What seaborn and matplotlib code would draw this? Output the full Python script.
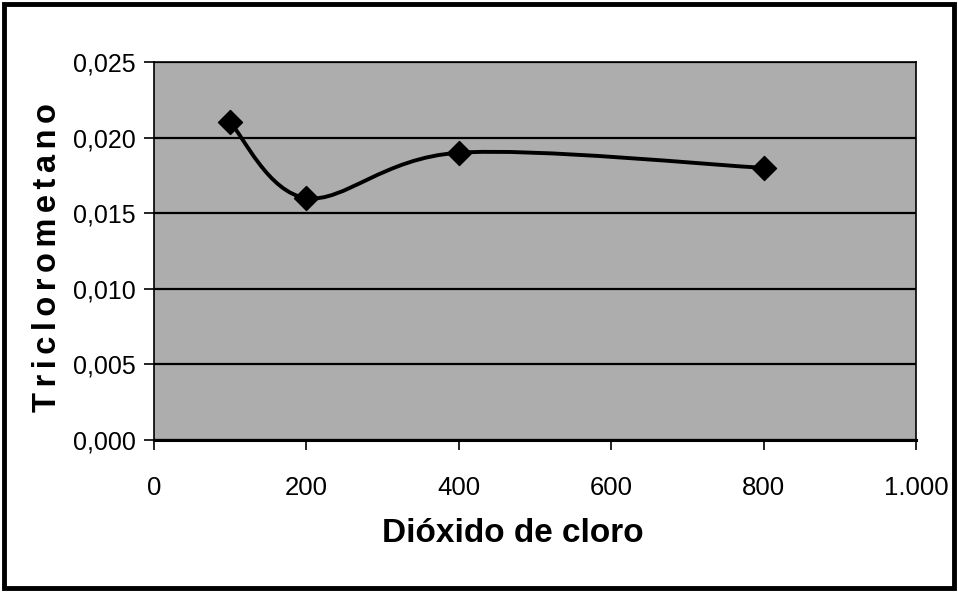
import numpy as np
import pandas as pd
import matplotlib
matplotlib.use("Agg")
import matplotlib.pyplot as plt
import seaborn as sns
from matplotlib.path import Path
from matplotlib.patches import PathPatch, Rectangle

dioxido = [100, 200, 400, 800]
triclorometano = [0.021, 0.016, 0.019, 0.018]
x_ticks = [0, 200, 400, 600, 800, 1000]
x_ticklabels = ["0", "200", "400", "600", "800", "1.000"]
y_ticks = [0.0, 0.005, 0.010, 0.015, 0.020, 0.025]
y_ticklabels = ["0,000", "0,005", "0,010", "0,015", "0,020", "0,025"]

sns.set_theme(style="white")
fam = ['Liberation Sans', 'DejaVu Sans']
plt.rcParams['font.family'] = fam

df = pd.DataFrame({"x": dioxido, "y": triclorometano})

fig = plt.figure(figsize=(9.58, 5.92), dpi=100)
fig.patch.set_facecolor("white")
ax = fig.add_axes([154/958, 1-440/592, (916-154)/958, (440-62)/592])
ax.set_facecolor("#adadad")

# smoothed line (Excel-style Bezier through the data points)
pts = np.column_stack([dioxido, triclorometano]).astype(float)
n = len(pts)
verts = [tuple(pts[0])]
codes = [Path.MOVETO]
for i in range(n - 1):
    p0 = pts[i - 1] if i > 0 else pts[i]
    p1 = pts[i]
    p2 = pts[i + 1]
    p3 = pts[i + 2] if i + 2 < n else pts[i + 1]
    c1 = p1 + (p2 - p0) / 6.0
    c2 = p2 - (p3 - p1) / 6.0
    verts += [tuple(c1), tuple(c2), tuple(p2)]
    codes += [Path.CURVE4] * 3
ax.add_patch(PathPatch(Path(verts, codes), facecolor="none", edgecolor="black",
                       lw=2.8, zorder=3))

sns.scatterplot(data=df, x="x", y="y", ax=ax, marker="D", s=150, color="black",
                edgecolor="black", zorder=4, legend=False)

ax.set_xlim(0, 1000)
ax.set_ylim(0, 0.025)
ax.set_xticks(x_ticks)
ax.set_xticklabels(x_ticklabels, fontsize=18.5)
ax.set_yticks(y_ticks)
ax.set_yticklabels(y_ticklabels, fontsize=18)
ax.yaxis.grid(True, color="black", lw=1.6)
ax.xaxis.grid(False)
ax.set_axisbelow(True)
for s in ["top", "right", "left"]:
    ax.spines[s].set_color("black")
    ax.spines[s].set_linewidth(1.2)
ax.spines["bottom"].set_color("black")
ax.spines["bottom"].set_linewidth(2.2)
ax.tick_params(axis="both", which="both", direction="out", length=7, width=1.2,
               color="black", labelcolor="black", bottom=True, left=True)
ax.tick_params(axis="y", pad=6)
ax.tick_params(axis="x", pad=19)

ax.set_xlabel("Dióxido de cloro", fontsize=24, fontweight="bold", color="black")
ax.xaxis.set_label_coords((513-154)/(916-154), -(534-440)/(440-62))
ax.xaxis.label.set_va("center")
hs = "\u200a\u200a"
ax.set_ylabel(hs.join("Triclorometano"), fontsize=23.5, fontweight="bold",
              color="black", fontfamily=fam)
ax.yaxis.set_label_coords(-(154-48)/(916-154), (440-258)/(440-62))
ax.yaxis.label.set_va("center")

fig.patches.append(Rectangle((0.004, 0.006), 0.992, 0.988, transform=fig.transFigure,
                             facecolor="none", edgecolor="black", lw=3.5))

fig.savefig("out.png", dpi=100)
